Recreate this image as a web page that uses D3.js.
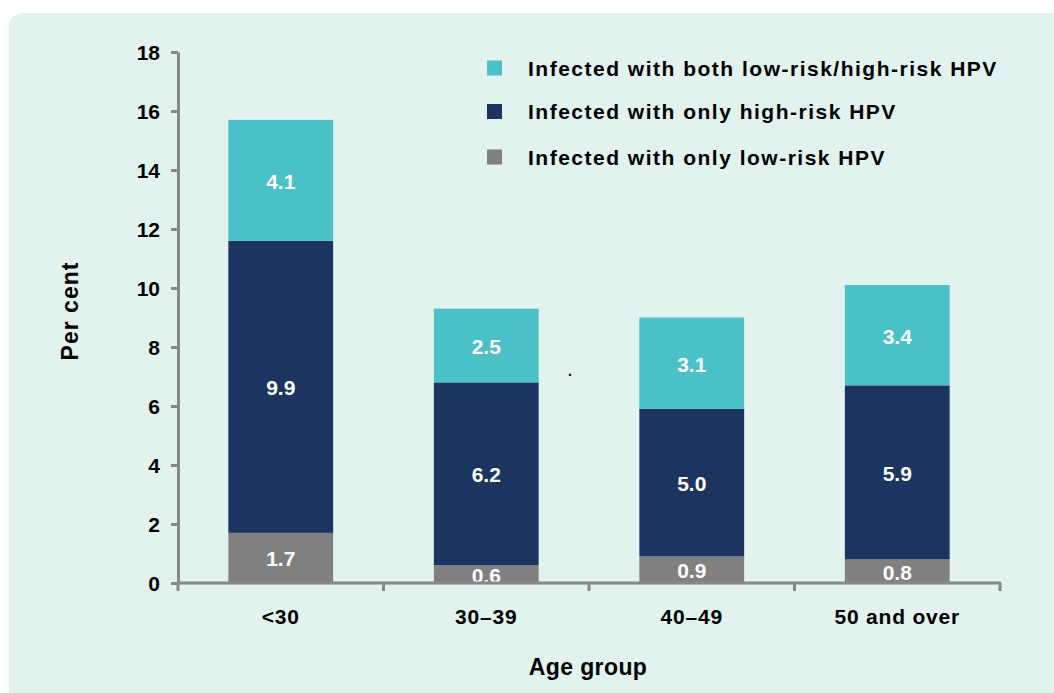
<!DOCTYPE html>
<html>
<head>
<meta charset="utf-8">
<script src="https://cdn.jsdelivr.net/npm/d3@7"></script>
<style>
  html, body { margin: 0; padding: 0; background: #ffffff; }
  svg { display: block; }
  text { font-family: "Liberation Sans", Arial, sans-serif; font-weight: bold; }
</style>
</head>
<body>
<script>
// HPV infection by age group, stacked (per cent)
const categories = ["<30", "30–39", "40–49", "50 and over"];
const lowOnly   = [1.7, 0.6, 0.9, 0.8];
const highOnly  = [9.9, 6.2, 5.0, 5.9];
const bothRisk  = [4.1, 2.5, 3.1, 3.4];
const yTicks = [0, 2, 4, 6, 8, 10, 12, 14, 16, 18];

const seriesNames = [
  "Infected with only low-risk HPV",
  "Infected with only high-risk HPV",
  "Infected with both low-risk/high-risk HPV"
];
const seriesKeys = ["low", "high", "both"];
const colors = { low: "#808080", high: "#1b3560", both: "#49c1c6" };

const W = 1054, H = 693;
const svg = d3.select("body").append("svg").attr("width", W).attr("height", H);

// panel background
svg.append("rect")
  .attr("x", 9).attr("y", 13)
  .attr("width", W + 40).attr("height", H + 40)
  .attr("rx", 14).attr("ry", 14)
  .attr("fill", "#e2f2ef");

const margin = { left: 178, right: 1000, top: 52, bottom: 583 };

const rows = categories.map((c, i) => ({
  cat: c, low: lowOnly[i], high: highOnly[i], both: bothRisk[i]
}));
const stacked = d3.stack().keys(seriesKeys)(rows);

const x = d3.scaleBand().domain(categories)
  .range([margin.left, margin.right]).paddingInner(0.49).paddingOuter(0.245);
const y = d3.scaleLinear().domain([0, 18]).range([margin.bottom, margin.top]);

// bars
const g = svg.append("g");
stacked.forEach(layer => {
  const key = layer.key;
  layer.forEach((d, i) => {
    const x0 = x(categories[i]);
    const bw = x.bandwidth();
    g.append("rect")
      .attr("x", x0).attr("width", bw)
      .attr("y", y(d[1])).attr("height", y(d[0]) - y(d[1]))
      .attr("fill", colors[key]);
    const v = d[1] - d[0];
    g.append("text")
      .attr("x", x0 + bw / 2)
      .attr("y", (y(d[0]) + y(d[1])) / 2)
      .attr("dy", "0.4em")
      .attr("text-anchor", "middle")
      .attr("fill", "#ffffff")
      .style("font-size", "21px")
      .text(v.toFixed(1));
  });
});

const axisColor = "#888888";

// y axis
const yAxis = svg.append("g")
  .attr("transform", `translate(${margin.left},0)`)
  .call(d3.axisLeft(y).tickValues(yTicks).tickSize(7).tickSizeOuter(0).tickPadding(11));
yAxis.select(".domain").attr("stroke", axisColor).attr("stroke-width", 3);
yAxis.selectAll(".tick line").attr("stroke", axisColor).attr("stroke-width", 3);
yAxis.selectAll(".tick text")
  .attr("fill", "#000").attr("dy", "0.36em").style("font-size", "21px")
  .style("font-family", "'Liberation Sans', Arial, sans-serif").style("font-weight", "bold");

// x axis with ticks at band boundaries
const bounds = [margin.left].concat(categories.map(c => x(c) - x.step() * x.paddingInner() / 2 + x.step()));
bounds[bounds.length - 1] = margin.right;
const xg = svg.append("g");
xg.append("line")
  .attr("x1", margin.left - 1).attr("x2", margin.right + 1)
  .attr("y1", margin.bottom).attr("y2", margin.bottom)
  .attr("stroke", axisColor).attr("stroke-width", 3);
bounds.forEach(bx => {
  xg.append("line")
    .attr("x1", bx).attr("x2", bx)
    .attr("y1", margin.bottom).attr("y2", margin.bottom + 8)
    .attr("stroke", axisColor).attr("stroke-width", 3);
});
categories.forEach(c => {
  xg.append("text")
    .attr("x", x(c) + x.bandwidth() / 2)
    .attr("y", 624)
    .attr("text-anchor", "middle")
    .attr("fill", "#000")
    .style("font-size", "21px")
    .style("letter-spacing", "0.8px")
    .text(c);
});

// axis titles
svg.append("text")
  .attr("transform", "translate(78,311) rotate(-90)")
  .attr("text-anchor", "middle")
  .attr("fill", "#000")
  .style("font-size", "23px")
  .style("letter-spacing", "1px")
  .text("Per cent");
svg.append("text")
  .attr("x", 588).attr("y", 675)
  .attr("text-anchor", "middle")
  .attr("fill", "#000")
  .style("font-size", "23px")
  .style("letter-spacing", "0.4px")
  .text("Age group");

// stray point in the plot area
svg.append("text")
  .attr("x", 568).attr("y", 376)
  .attr("fill", "#000")
  .style("font-size", "14px")
  .text(".");

// legend (top to bottom: both, high only, low only)
const legendItems = [2, 1, 0];
const legendY = [68, 111.5, 157];
const legend = svg.append("g");
legendItems.forEach((si, k) => {
  const ly = legendY[k];
  legend.append("rect")
    .attr("x", 487).attr("y", ly - 7.5)
    .attr("width", 15).attr("height", 15)
    .attr("fill", colors[seriesKeys[si]]);
  legend.append("text")
    .attr("x", 528).attr("y", ly)
    .attr("dy", "0.36em")
    .attr("fill", "#000")
    .style("font-size", "21px")
    .style("letter-spacing", "1.5px")
    .text(seriesNames[si]);
});
</script>
</body>
</html>
